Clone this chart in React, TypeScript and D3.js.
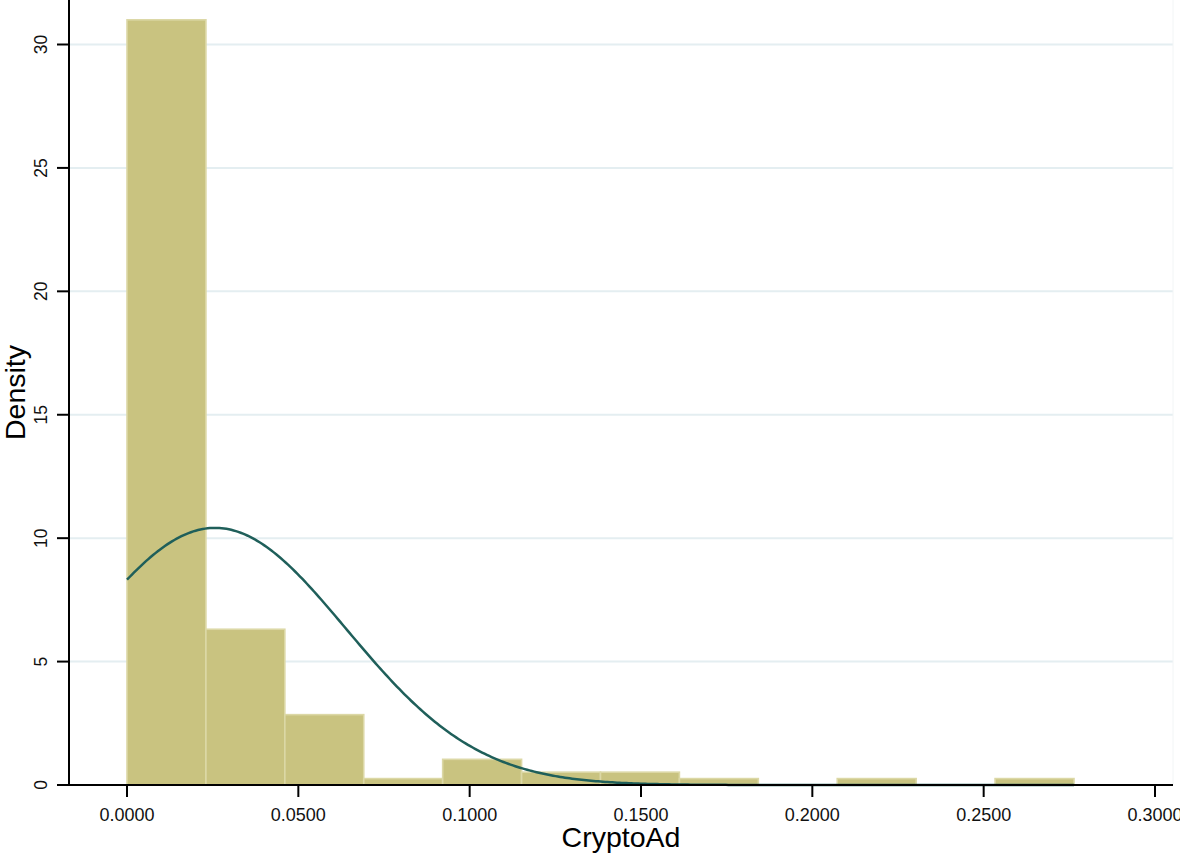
import React from "react";
import * as d3 from "d3";

// ---- data ----
const binStart = 0;
const binWidth = 0.02303;
const binDensities = [31.0, 6.31, 2.85, 0.26, 1.04, 0.52, 0.52, 0.26, 0, 0.26, 0, 0.26];
const normalMean = 0.0257;
const normalSd = 0.0383;
const xTicks = [0, 0.05, 0.1, 0.15, 0.2, 0.25, 0.3];
const yTicks = [0, 5, 10, 15, 20, 25, 30];
const xLabel = "CryptoAd";
const yLabel = "Density";

const W = 1180;
const H = 859;

export default function App() {
  const x = d3.scaleLinear().domain([0, 0.3]).range([127, 1155]);
  const y = d3.scaleLinear().domain([0, 30]).range([785, 44.5]);
  const plotLeft = 69;
  const plotRight = 1173;
  const base = y(0);

  const bins = binDensities.map((dns, i) => ({
    x0: binStart + i * binWidth,
    x1: binStart + (i + 1) * binWidth,
    d: dns,
  }));

  const xMax = binStart + binDensities.length * binWidth;
  const pts = d3.range(0, 401).map((i) => {
    const v = binStart + ((xMax - binStart) * i) / 400;
    const z = (v - normalMean) / normalSd;
    return [v, Math.exp(-0.5 * z * z) / (normalSd * Math.sqrt(2 * Math.PI))] as [number, number];
  });
  const line = d3
    .line<[number, number]>()
    .x((p) => x(p[0]))
    .y((p) => y(p[1]))
    .curve(d3.curveLinear);

  const font = "Liberation Sans, Arial, Helvetica, sans-serif";

  return (
    <svg
      width={W}
      height={H}
      style={{ position: "absolute", left: 0, top: 0, background: "#ffffff" }}
      fontFamily={font}
    >
      <rect x={0} y={0} width={W} height={H} fill="#ffffff" />
      {/* gridlines */}
      {yTicks
        .filter((t) => t > 0)
        .map((t) => (
          <line
            key={"g" + t}
            x1={plotLeft}
            x2={plotRight}
            y1={y(t)}
            y2={y(t)}
            stroke="#e4eef1"
            strokeWidth={2}
          />
        ))}
      <line x1={plotRight} x2={plotRight} y1={0} y2={base} stroke="#f2f5f6" strokeWidth={1} />
      {/* bars */}
      {bins
        .filter((b) => b.d > 0)
        .map((b, i) => (
          <rect
            key={"b" + i}
            x={x(b.x0)}
            y={y(b.d)}
            width={x(b.x1) - x(b.x0)}
            height={base - y(b.d)}
            fill="#c9c380"
            stroke="#dcd8a6"
            strokeWidth={1.6}
          />
        ))}
      {/* normal curve */}
      <path d={line(pts) || ""} fill="none" stroke="#1f5f5a" strokeWidth={2.5} />
      {/* y axis */}
      <line x1={plotLeft} x2={plotLeft} y1={0} y2={base + 1} stroke="#000" strokeWidth={2} />
      {yTicks.map((t) => (
        <g key={"yt" + t}>
          <line x1={plotLeft - 12} x2={plotLeft} y1={y(t)} y2={y(t)} stroke="#000" strokeWidth={2} />
          <text
            transform={`translate(${46.5},${y(t)}) rotate(-90)`}
            textAnchor="middle"
            fontSize={17.5}
            fill="#111"
          >
            {String(t)}
          </text>
        </g>
      ))}
      {/* x axis */}
      <line x1={plotLeft} x2={plotRight} y1={base} y2={base} stroke="#000" strokeWidth={2} />
      {xTicks.map((t) => (
        <g key={"xt" + t}>
          <line x1={x(t)} x2={x(t)} y1={base} y2={base + 12} stroke="#000" strokeWidth={2} />
          <text x={x(t)} y={820.5} textAnchor="middle" fontSize={18} fill="#111">
            {t.toFixed(4)}
          </text>
        </g>
      ))}
      <text x={(plotLeft + plotRight) / 2} y={846.5} textAnchor="middle" fontSize={28.5} fill="#000">
        {xLabel}
      </text>
      <text
        transform={`translate(${24.5},${base / 2}) rotate(-90)`}
        textAnchor="middle"
        fontSize={28.5}
        fill="#000"
      >
        {yLabel}
      </text>
    </svg>
  );
}
